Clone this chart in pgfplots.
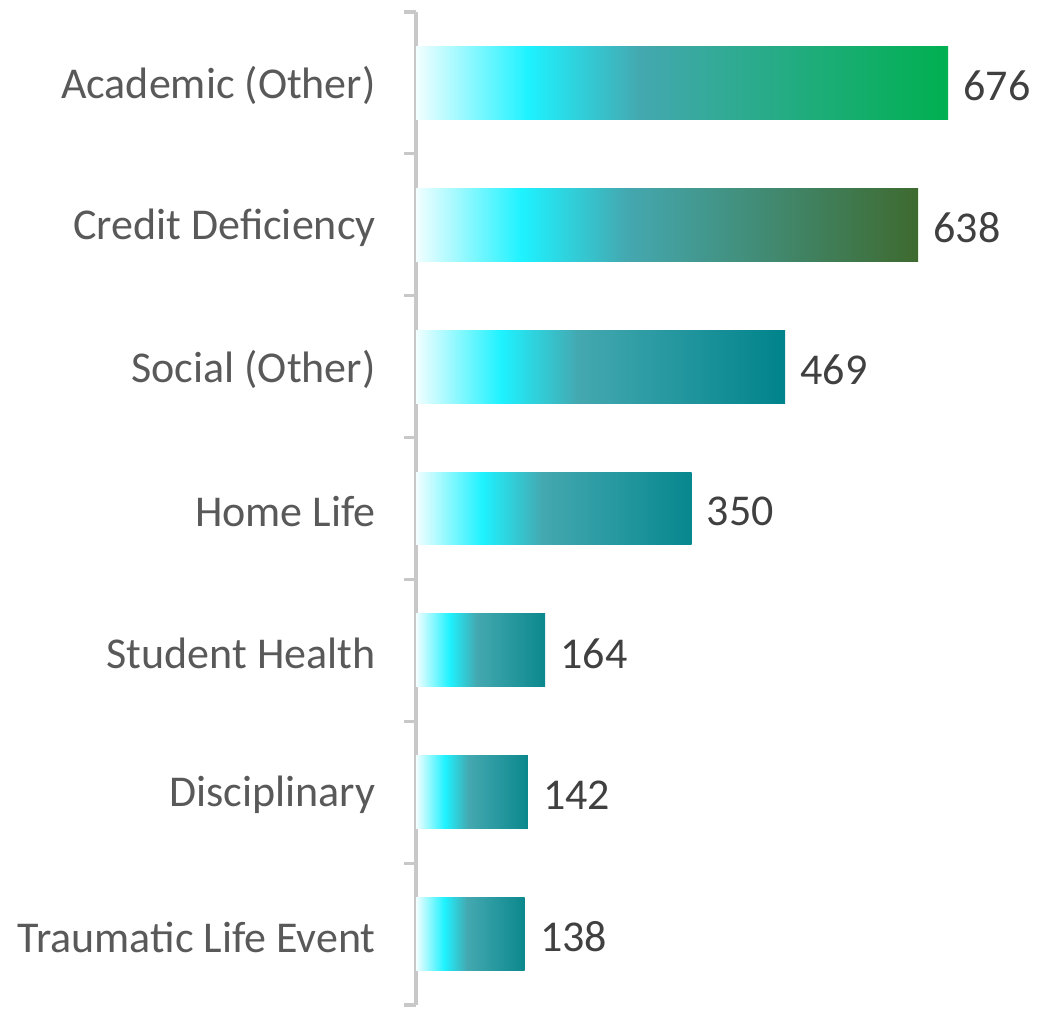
\documentclass[border=0pt]{standalone}
\usepackage{fontspec}
\setmainfont{Carlito}
\usepackage{pgfplots}
\pgfplotsset{compat=1.18}
\definecolor{lbl}{HTML}{595959}
\definecolor{num}{HTML}{404040}
\definecolor{axgray}{HTML}{C8C8C8}
\definecolor{g0}{HTML}{F2FEFF}
\definecolor{g1}{HTML}{1EF2FF}
\definecolor{g2}{HTML}{44A8B0}
\definecolor{eA}{HTML}{00B050}
\definecolor{eB}{HTML}{3E6A2F}
\definecolor{eC}{HTML}{00838B}
\definecolor{eD}{HTML}{07878E}
\definecolor{eE}{HTML}{0B888D}
\pgfdeclarehorizontalshading{shA}{100bp}{color(0bp)=(g0); color(25bp)=(g0); color(35.5bp)=(g1); color(46bp)=(g2); color(75bp)=(eA); color(100bp)=(eA)}
\pgfdeclarehorizontalshading{shB}{100bp}{color(0bp)=(g0); color(25bp)=(g0); color(35.5bp)=(g1); color(46bp)=(g2); color(75bp)=(eB); color(100bp)=(eB)}
\pgfdeclarehorizontalshading{shC}{100bp}{color(0bp)=(g0); color(25bp)=(g0); color(36.5bp)=(g1); color(47bp)=(g2); color(75bp)=(eC); color(100bp)=(eC)}
\pgfdeclarehorizontalshading{shD}{100bp}{color(0bp)=(g0); color(25bp)=(g0); color(37bp)=(g1); color(48bp)=(g2); color(75bp)=(eD); color(100bp)=(eD)}
\pgfdeclarehorizontalshading{shE}{100bp}{color(0bp)=(g0); color(25bp)=(g0); color(38bp)=(g1); color(48.5bp)=(g2); color(75bp)=(eE); color(100bp)=(eE)}
\begin{document}
\begin{tikzpicture}
\useasboundingbox (0,0) rectangle (519pt,508pt);
\begin{axis}[
  at={(208pt,5.5pt)}, anchor=south west,
  scale only axis, width=307pt, height=496.5pt,
  xmin=0, xmax=780, ymin=-0.5, ymax=6.5, y dir=reverse,
  xbar, bar width=0.514, bar shift=0pt,
  axis x line=none, axis y line=left,
  y axis line style={draw=axgray, line width=1.6pt, -},
  ytick={0,...,6},
  yticklabels={Academic (Other),Credit Deficiency,Social (Other),Home Life,Student Health,Disciplinary,Traumatic Life Event},
  major tick length=0pt,
  minor ytick={-0.5,0.5,...,6.5}, minor tick length=6pt, tick align=outside,
  minor tick style={draw=axgray, line width=1.6pt},
  yticklabel style={font=\fontsize{22}{26}\selectfont, text=lbl, anchor=east, inner sep=0pt, xshift=-20pt, yshift=-1.5pt},
  /pgf/number format/assume math mode=true,
  nodes near coords, point meta=x,
  nodes near coords style={font=\fontsize{22}{26}\selectfont, text=num, anchor=west, inner sep=0pt, xshift=7.5pt, yshift=-1.5pt},
  clip=false,
]
\addplot[draw=none, shade, shading=shA] coordinates {(676,0)};
\addplot[draw=none, shade, shading=shB] coordinates {(638,1)};
\addplot[draw=none, shade, shading=shC] coordinates {(469,2)};
\addplot[draw=none, shade, shading=shD] coordinates {(350,3)};
\addplot[draw=none, shade, shading=shE] coordinates {(164,4)};
\addplot[draw=none, shade, shading=shE] coordinates {(142,5)};
\addplot[draw=none, shade, shading=shE] coordinates {(138,6)};
\end{axis}
\end{tikzpicture}
\end{document}
